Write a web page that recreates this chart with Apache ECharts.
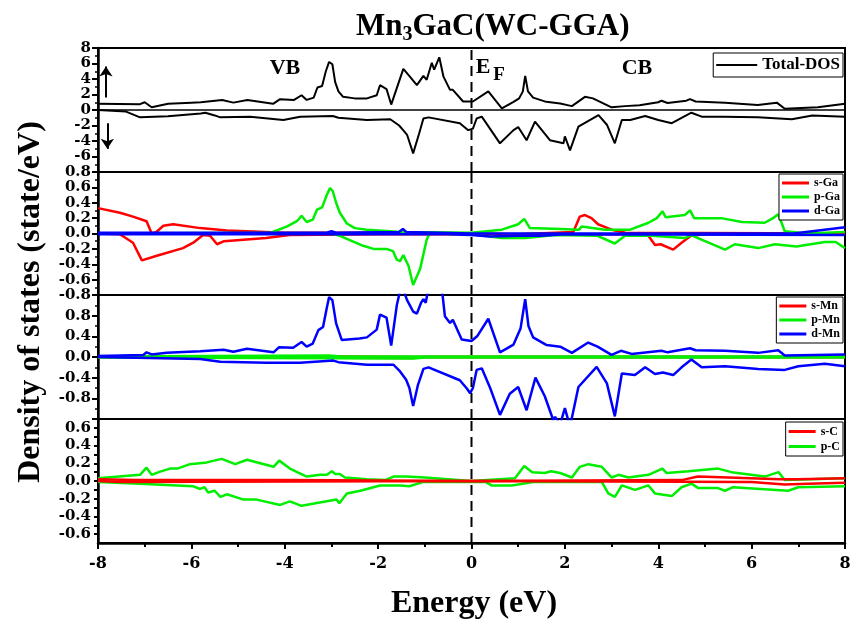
<!DOCTYPE html>
<html>
<head>
<meta charset="utf-8">
<script src="https://cdn.jsdelivr.net/npm/echarts@6/dist/echarts.min.js"></script>
<style>
  html, body { margin: 0; padding: 0; background: #fff; }
  #dos { width: 850px; height: 620px; }
</style>
</head>
<body>
<div id="dos"></div>
<script>
// energy (eV) / DOS (state/eV) pairs
const totUp = [[-8,0.8],[-7.1,0.75],[-7.0,1.0],[-6.85,0.35],[-6.5,0.8],[-6.0,0.95],[-5.8,1.0],[-5.34,1.3],[-5.1,0.95],[-4.8,1.3],[-4.25,0.8],[-4.1,1.4],[-3.8,1.3],[-3.64,1.9],[-3.53,1.3],[-3.38,1.6],[-3.3,2.9],[-3.2,3.1],[-3.12,5.0],[-3.05,6.2],[-2.98,5.9],[-2.92,3.6],[-2.85,2.4],[-2.75,1.7],[-2.5,1.5],[-2.24,1.5],[-2.03,1.9],[-1.96,3.2],[-1.82,2.7],[-1.72,0.7],[-1.46,5.3],[-1.32,4.3],[-1.17,3.2],[-1.03,4.4],[-0.96,3.9],[-0.85,6.1],[-0.8,5.2],[-0.69,6.8],[-0.6,4.3],[-0.46,2.6],[-0.4,2.6],[-0.18,1.1],[0.03,1.1],[0.36,2.4],[0.65,0.2],[0.9,1.05],[1.02,1.5],[1.1,2.4],[1.15,4.4],[1.21,2.4],[1.32,1.6],[1.6,1.05],[1.9,0.85],[2.15,0.5],[2.43,1.7],[2.6,1.5],[3.0,0.35],[3.29,0.5],[3.6,0.6],[4.0,1.0],[4.07,1.2],[4.2,0.9],[4.6,1.2],[4.68,1.4],[4.8,1.1],[5.43,0.95],[6.13,0.65],[6.54,0.95],[6.71,0.17],[7.42,0.35],[8,0.8]];
const totDn = [[-8,0],[-7.4,-0.2],[-7.1,-0.95],[-6.5,-0.8],[-5.8,-0.45],[-5.7,-0.35],[-5.5,-0.7],[-5.38,-0.95],[-4.74,-0.86],[-4.03,-1.3],[-3.67,-0.86],[-2.97,-0.77],[-2.85,-1.0],[-2.24,-1.3],[-1.74,-1.2],[-1.55,-2.0],[-1.45,-2.7],[-1.38,-3.2],[-1.25,-5.6],[-1.12,-3.0],[-1.03,-1.1],[-0.92,-0.95],[-0.25,-1.7],[-0.07,-2.6],[0.03,-2.4],[0.11,-1.1],[0.22,-0.86],[0.61,-4.3],[0.9,-2.6],[1.0,-2.2],[1.18,-3.9],[1.36,-1.5],[1.68,-3.9],[1.97,-4.3],[2.0,-3.4],[2.11,-5.2],[2.29,-2.15],[2.72,-0.65],[2.9,-1.9],[3.07,-4.3],[3.22,-1.3],[3.4,-1.3],[3.72,-0.77],[4.0,-1.3],[4.29,-1.7],[4.71,-0.35],[4.93,-0.86],[5.4,-0.86],[6.13,-0.95],[6.86,-1.2],[7.3,-0.7],[8,-0.86]];

const sGaUp = [[-8,0.33],[-7.53,0.27],[-7.25,0.22],[-6.96,0.16],[-6.85,0.0],[-6.75,0.02],[-6.6,0.1],[-6.39,0.12],[-5.81,0.07],[-5.24,0.04],[-4.0,0.01],[-1,0.01],[0,0.0],[1.0,-0.01],[2.18,0.02],[2.32,0.22],[2.43,0.24],[2.57,0.2],[2.71,0.12],[3.0,0.05],[3.3,0.01],[8,0.0]];
const sGaDn = [[-8,0],[-7.53,-0.01],[-7.25,-0.12],[-7.06,-0.35],[-6.74,-0.29],[-6.18,-0.19],[-5.96,-0.12],[-5.75,-0.02],[-5.6,-0.03],[-5.45,-0.14],[-5.3,-0.1],[-4.4,-0.06],[-3.9,-0.02],[-2,-0.01],[3.6,-0.01],[3.79,-0.03],[3.93,-0.15],[4.05,-0.14],[4.32,-0.21],[4.5,-0.12],[4.7,-0.03],[5.0,-0.01],[8,0.0]];
const pGaUp = [[-8,0],[-4.3,0.01],[-3.96,0.09],[-3.74,0.16],[-3.64,0.23],[-3.53,0.15],[-3.4,0.18],[-3.31,0.31],[-3.2,0.34],[-3.1,0.5],[-3.03,0.59],[-2.97,0.55],[-2.9,0.4],[-2.82,0.27],[-2.67,0.13],[-2.5,0.07],[-2.24,0.05],[-1.5,0.02],[0,0.01],[0.65,0.05],[1.0,0.12],[1.13,0.19],[1.25,0.07],[1.9,0.06],[2.3,0.05],[2.36,0.09],[2.86,0.05],[3.4,0.05],[3.79,0.14],[3.97,0.2],[4.09,0.29],[4.16,0.21],[4.57,0.24],[4.68,0.3],[4.77,0.2],[5.07,0.2],[5.35,0.2],[5.79,0.15],[6.28,0.14],[6.46,0.2],[6.57,0.25],[6.71,0.03],[7.2,0.0],[8,0.02]];
const pGaDn = [[-8,0],[-3.0,0],[-2.82,-0.03],[-2.32,-0.16],[-2.1,-0.2],[-1.82,-0.2],[-1.68,-0.23],[-1.6,-0.34],[-1.53,-0.36],[-1.46,-0.28],[-1.35,-0.42],[-1.25,-0.67],[-1.1,-0.46],[-0.96,-0.08],[-0.9,0],[0,-0.01],[0.65,-0.06],[1.15,-0.06],[1.8,-0.02],[2.7,-0.03],[3.07,-0.13],[3.29,-0.03],[3.86,-0.03],[4.57,-0.06],[4.7,-0.02],[5.43,-0.21],[5.64,-0.14],[6.14,-0.19],[6.5,-0.14],[6.96,-0.17],[7.57,-0.11],[7.8,-0.11],[8,-0.19]];
const dGaUp = [[-8,0.01],[-3.1,0.01],[-3.0,0.03],[-2.9,0.01],[-1.55,0.02],[-1.47,0.06],[-1.4,0.02],[0,0],[6.9,0.0],[8,0.08]];
const dGaDn = [[-8,-0.01],[-1.5,-0.01],[-0.5,-0.01],[0,-0.02],[0.4,-0.04],[1.0,-0.03],[1.5,-0.03],[2.0,-0.01],[8,-0.02]];

const sMnUp = [[-8,0],[-3.0,0.01],[-1.2,0.0],[8,0]];
const sMnDn = [[-8,0],[-1.25,-0.02],[-1.0,0],[8,0]];
const pMnUp = [[-8,0.01],[-3.05,0.03],[-2.8,0.01],[8,0.01]];
const pMnDn = [[-8,-0.01],[-1.25,-0.03],[-1,-0.01],[8,-0.01]];
const dMnUp = [[-8,0.02],[-7.03,0.04],[-6.96,0.09],[-6.85,0.05],[-6.53,0.08],[-5.81,0.11],[-5.31,0.14],[-5.1,0.1],[-4.81,0.16],[-4.24,0.09],[-4.12,0.19],[-3.82,0.18],[-3.64,0.29],[-3.53,0.2],[-3.4,0.26],[-3.28,0.52],[-3.18,0.58],[-3.1,0.95],[-3.05,1.16],[-2.98,1.1],[-2.9,0.65],[-2.78,0.33],[-2.4,0.36],[-2.24,0.38],[-2.03,0.53],[-1.96,0.82],[-1.82,0.76],[-1.72,0.22],[-1.6,1.0],[-1.5,1.4],[-1.38,1.1],[-1.25,0.88],[-1.17,0.84],[-1.08,1.05],[-1.03,1.12],[-0.98,1.05],[-0.94,1.25],[-0.85,1.7],[-0.75,1.5],[-0.69,1.9],[-0.62,1.2],[-0.57,0.79],[-0.46,0.66],[-0.4,0.72],[-0.21,0.34],[0.0,0.31],[0.12,0.4],[0.36,0.74],[0.61,0.09],[0.9,0.24],[1.05,0.55],[1.15,1.12],[1.22,0.6],[1.32,0.38],[1.61,0.23],[1.9,0.2],[2.15,0.08],[2.5,0.28],[2.7,0.2],[3.0,0.04],[3.2,0.12],[3.43,0.06],[4.07,0.12],[4.2,0.09],[4.68,0.17],[4.8,0.13],[5.43,0.12],[6.14,0.08],[6.57,0.13],[6.71,0.03],[8,0.05]];
const dMnDn = [[-8,0],[-5.81,-0.04],[-5.38,-0.09],[-4.39,-0.11],[-3.67,-0.11],[-2.96,-0.07],[-2.85,-0.1],[-2.24,-0.15],[-1.67,-0.15],[-1.53,-0.28],[-1.4,-0.44],[-1.33,-0.6],[-1.25,-0.95],[-1.15,-0.55],[-1.03,-0.23],[-0.92,-0.2],[-0.25,-0.45],[-0.1,-0.61],[-0.03,-0.7],[0.03,-0.6],[0.11,-0.25],[0.22,-0.22],[0.4,-0.6],[0.61,-1.12],[0.82,-0.71],[1.0,-0.58],[1.18,-1.03],[1.37,-0.4],[1.57,-0.76],[1.75,-1.22],[1.79,-1.16],[1.9,-1.3],[2.0,-0.99],[2.11,-1.35],[2.29,-0.58],[2.68,-0.19],[2.9,-0.51],[3.07,-1.15],[3.22,-0.32],[3.5,-0.35],[3.72,-0.2],[3.93,-0.33],[4.1,-0.3],[4.32,-0.35],[4.5,-0.2],[4.71,-0.05],[4.93,-0.2],[5.43,-0.18],[6.14,-0.23],[6.71,-0.25],[7.0,-0.18],[7.57,-0.13],[8,-0.18]];

const sCUp = [[-8,0.02],[-7.2,0.01],[-4,0.01],[0,0.0],[4.5,0.01],[4.85,0.05],[5.5,0.04],[6.6,0.02],[7,0.02],[8,0.03]];
const sCDn = [[-8,0.0],[-7.5,-0.01],[0,0],[6.0,-0.01],[6.71,-0.04],[7.2,-0.03],[8,-0.02]];
const pCUp = [[-8,0.03],[-7.1,0.07],[-6.96,0.15],[-6.85,0.07],[-6.7,0.1],[-6.46,0.14],[-6.3,0.14],[-6.03,0.19],[-5.67,0.21],[-5.35,0.25],[-5.06,0.19],[-4.81,0.24],[-4.24,0.16],[-4.12,0.23],[-3.89,0.14],[-3.53,0.05],[-3.24,0.07],[-3.1,0.07],[-2.99,0.11],[-2.92,0.08],[-2.82,0.08],[-2.71,0.04],[-2.24,0.02],[-1.85,0.01],[-1.67,0.05],[-1.4,0.05],[-1.0,0.04],[-0.5,0.02],[0,0.0],[0.93,0.03],[1.13,0.17],[1.3,0.1],[1.57,0.09],[1.7,0.11],[1.9,0.09],[2.15,0.04],[2.32,0.16],[2.5,0.19],[2.79,0.16],[3.0,0.04],[3.15,0.07],[3.36,0.04],[3.79,0.07],[4.09,0.14],[4.18,0.09],[4.65,0.11],[5.28,0.14],[5.57,0.1],[6.28,0.05],[6.58,0.1],[6.71,0.01],[8,0.03]];
const pCDn = [[-8,-0.01],[-7.1,-0.03],[-5.96,-0.06],[-5.81,-0.09],[-5.72,-0.07],[-5.64,-0.13],[-5.5,-0.11],[-5.38,-0.18],[-5.24,-0.15],[-4.88,-0.21],[-4.6,-0.21],[-4.1,-0.27],[-3.89,-0.23],[-3.64,-0.28],[-2.89,-0.21],[-2.83,-0.25],[-2.67,-0.14],[-2.38,-0.11],[-2.1,-0.07],[-1.96,-0.05],[-1.53,-0.05],[-1.33,-0.06],[-1.03,-0.01],[0.3,-0.01],[0.43,-0.05],[0.86,-0.05],[1.36,-0.01],[2.79,-0.01],[2.93,-0.14],[3.07,-0.18],[3.22,-0.05],[3.5,-0.1],[3.79,-0.05],[3.93,-0.14],[4.29,-0.17],[4.5,-0.07],[4.71,-0.03],[4.86,-0.08],[5.28,-0.08],[5.43,-0.11],[5.6,-0.07],[6.78,-0.11],[7.0,-0.07],[8,-0.06]];

const xTicks = [-8, 8, 2];     // min, max, step
const fermi = 0;               // E_F (eV)
const FONT = 'Liberation Serif';
const NUMFONT = 'DejaVu Serif';
const RED = '#ff0000', GREEN = '#00ee00', BLUE = '#0000ff';

let chart = echarts.init(document.getElementById('dos'));

// panel boxes
const panels = [
  { top: 48, height: 124 },
  { top: 172, height: 123 },
  { top: 295, height: 124 },
  { top: 419, height: 124 },
];

function line(name, data, color, i, width, extra) {
  return Object.assign({
    name: name, type: 'line', xAxisIndex: i, yAxisIndex: i,
    data: data, symbol: 'none', showSymbol: false, animation: false,
    lineStyle: { color: color, width: width }, itemStyle: { color: color },
  }, extra || {});
}

const oneDec = v => (Math.round(v * 10) / 10).toFixed(1);
const yDefs = [
  { min: -8, max: 8, interval: 2, minL: false, maxL: true, minor: 2, fmt: v => String(Math.round(v)) },
  { min: -0.8, max: 0.8, interval: 0.2, minL: true, maxL: true, minor: 2, fmt: oneDec },
  { min: -1.2, max: 1.2, interval: 0.4, minL: false, maxL: false, minor: 2, fmt: oneDec },
  { min: -0.7, max: 0.7, interval: 0.1, minL: false, maxL: false, minor: 0,
    fmt: v => { let k = Math.abs(Math.round(v * 10)); return (k % 2 === 0 && k < 7) ? oneDec(v) : ''; } },
];

// dashed Fermi level line, one per panel, spanning the y range
function efSeries(i) {
  return {
    type: 'line', xAxisIndex: i, yAxisIndex: i, z: 5, silent: true,
    data: [[fermi, yDefs[i].min], [fermi, yDefs[i].max]],
    symbol: 'none', showSymbol: false, animation: false,
    lineStyle: { color: '#000', width: 2, type: [10, 6] },
  };
}

let yAxes = yDefs.map((d, i) => ({
  type: 'value', gridIndex: i, min: d.min, max: d.max, interval: d.interval,
  splitLine: { show: false },
  axisLine: { show: true, onZero: false, lineStyle: { color: '#000', width: 2.5 } },
  axisTick: { show: true, length: i === 3 ? 4 : 6, lineStyle: { color: '#000', width: 2 } },
  minorTick: { show: d.minor > 0, splitNumber: d.minor || 5, length: 3, lineStyle: { color: '#000', width: 1.5 } },
  axisLabel: {
    color: '#000', fontFamily: NUMFONT, fontWeight: 'bold', fontSize: 15, margin: 7,
    showMinLabel: d.minL, showMaxLabel: d.maxL, formatter: d.fmt,
  },
}));

let xAxes = panels.map((p, i) => ({
  type: 'value', gridIndex: i, min: xTicks[0], max: xTicks[1], interval: xTicks[2],
  splitLine: { show: false },
  axisLine: { show: i === 3, onZero: false, lineStyle: { color: '#000', width: 2.5 } },
  axisTick: { show: i === 3, length: 6, lineStyle: { color: '#000', width: 2 } },
  minorTick: { show: i === 3, splitNumber: 2, length: 4, lineStyle: { color: '#000', width: 2 } },
  axisLabel: { show: i === 3, color: '#000', fontFamily: NUMFONT, fontWeight: 'bold', fontSize: 16, margin: 13 },
}));

function legendBox(names, top, itemW, itemH, fs, lh) {
  return {
    data: names, right: 7, top: top, orient: 'vertical', align: 'left',
    icon: 'rect', itemWidth: itemW, itemHeight: itemH, itemGap: 0,
    borderColor: '#000', borderWidth: 1, padding: [2, 3, 2, 3], borderRadius: 0,
    backgroundColor: '#fff', selectedMode: false,
    textStyle: { color: '#000', fontFamily: FONT, fontWeight: 'bold', fontSize: fs, lineHeight: lh },
  };
}

function label(text, x, y, size) {
  return { type: 'text', x: x, y: y, z: 100,
    style: { text: text, font: 'bold ' + size + 'px "Liberation Serif"', fill: '#000',
             align: 'center', verticalAlign: 'middle' } };
}

chart.setOption({
  backgroundColor: '#fff',
  animation: false,
  title: {
    left: 351, top: 4,
    text: '{a|Mn}{b|3}{a|GaC(WC-GGA)}',
    textStyle: {
      rich: {
        a: { fontFamily: FONT, fontWeight: 'bold', fontSize: 31, color: '#000', lineHeight: 36 },
        b: { fontFamily: FONT, fontWeight: 'bold', fontSize: 20, color: '#000', verticalAlign: 'bottom', lineHeight: 16, padding: [13, 0, 0, 0] },
      },
    },
  },
  // outerBoundsMode 'none': keep all four panels the same width even though the "8" label overhangs
  grid: panels.map(p => ({
    left: 98, right: 5, top: p.top, height: p.height, outerBoundsMode: 'none',
    show: true, borderColor: '#000', borderWidth: 2, backgroundColor: 'transparent', containLabel: false,
  })),
  xAxis: xAxes,
  yAxis: yAxes,
  legend: [
    legendBox(['Total-DOS'], 53, 41, 2, 17, 20),
    legendBox(['s-Ga', 'p-Ga', 'd-Ga'], 174, 27, 3, 12, 14),
    legendBox(['s-Mn', 'p-Mn', 'd-Mn'], 297, 27, 3, 12, 14),
    legendBox(['s-C', 'p-C'], 422, 27, 3, 12, 15),
  ],
  graphic: [
    Object.assign(label('Density of states (state/eV)', 31, 302, 32), { rotation: Math.PI / 2 }),
    label('Energy (eV)', 474, 604, 32),
    label('VB', 285, 68, 22),
    label('CB', 637, 68, 22),
    label('E', 483, 67, 22),
    label('F', 499, 75, 19),
  ],
  series: [
    line('Total-DOS', totUp, '#000', 0, 2, {
      markLine: {
        silent: true, animation: false, symbol: ['none', 'none'], symbolSize: 10,
        label: { show: false },
        data: [
          { yAxis: 0, lineStyle: { color: '#000', type: 'solid', width: 1.5 } },
          [{ coord: [-7.83, 1.6], symbol: 'none', lineStyle: { color: '#000', type: 'solid', width: 2 } },
           { coord: [-7.83, 5.6], symbol: 'arrow' }],
          [{ coord: [-7.8, -1.7], symbol: 'none', lineStyle: { color: '#000', type: 'solid', width: 2 } },
           { coord: [-7.8, -5.0], symbol: 'arrow' }],
        ],
      },
    }),
    line('Total-DOS', totDn, '#000', 0, 2),
    efSeries(0),

    line('s-Ga', sGaUp, RED, 1, 2.5),
    line('s-Ga', sGaDn, RED, 1, 2.5),
    line('p-Ga', pGaUp, GREEN, 1, 2.5),
    line('p-Ga', pGaDn, GREEN, 1, 2.5),
    line('d-Ga', dGaUp, BLUE, 1, 2.5),
    line('d-Ga', dGaDn, BLUE, 1, 2.5),
    efSeries(1),

    line('s-Mn', sMnUp, RED, 2, 2.5),
    line('s-Mn', sMnDn, RED, 2, 2.5),
    line('p-Mn', pMnUp, GREEN, 2, 2.5),
    line('p-Mn', pMnDn, GREEN, 2, 2.5),
    line('d-Mn', dMnUp, BLUE, 2, 2.5),
    line('d-Mn', dMnDn, BLUE, 2, 2.5),
    efSeries(2),

    line('p-C', pCUp, GREEN, 3, 2.5),
    line('p-C', pCDn, GREEN, 3, 2.5),
    line('s-C', sCUp, RED, 3, 2.5),
    line('s-C', sCDn, RED, 3, 2.5),
    efSeries(3),
  ],
});
</script>
</body>
</html>
